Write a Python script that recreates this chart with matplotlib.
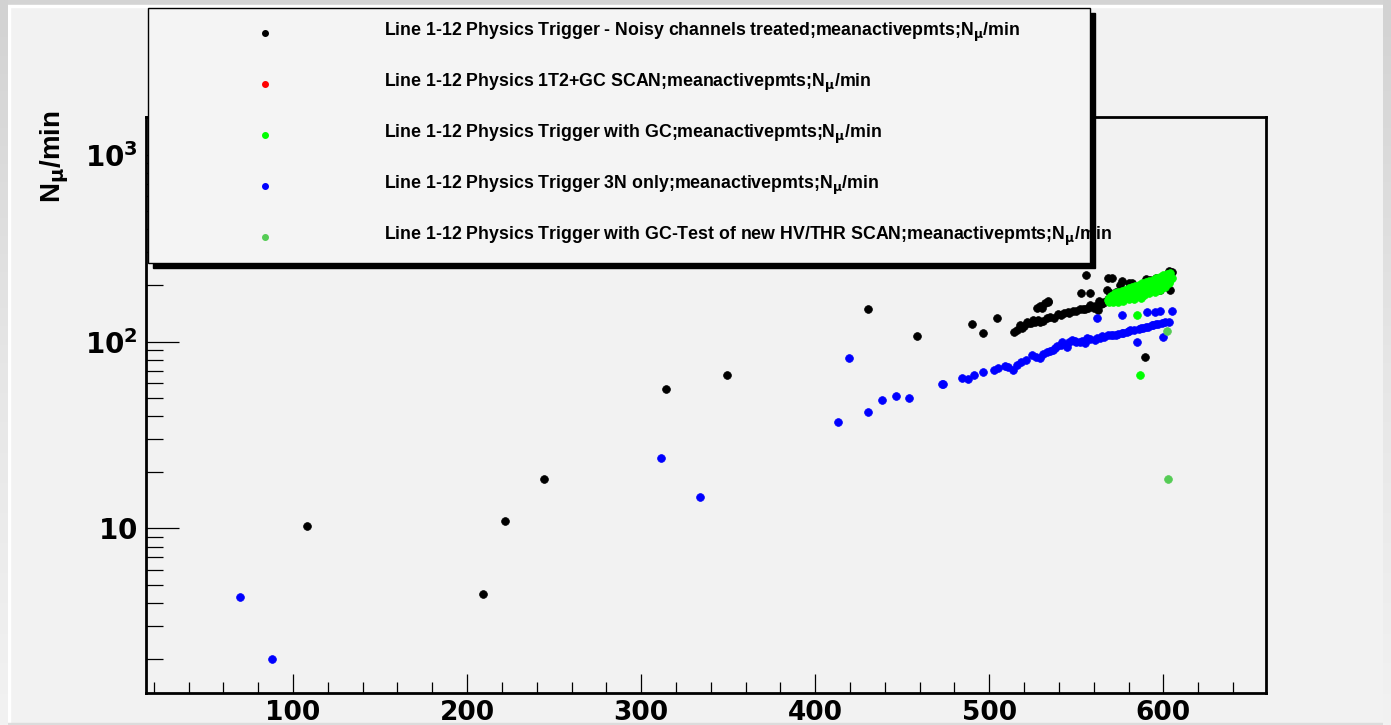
import matplotlib
matplotlib.use("Agg")
import matplotlib.pyplot as plt
from matplotlib.patches import Rectangle
from matplotlib.lines import Line2D
from matplotlib.ticker import FixedLocator, FixedFormatter, LogLocator, NullFormatter, MultipleLocator
from matplotlib.colors import LinearSegmentedColormap
import numpy as np

# ---------------- data ----------------
noisy_x = [108, 209.2, 221.8, 244.3, 314.4, 349.4, 430.5, 458.6, 490.2, 496.6, 504.6,
           514, 516.1, 517.8, 519, 520, 521.8, 523, 524, 525.3, 526, 528, 529, 531.0, 533,
           535.1, 537, 539.7, 541, 543, 545.4, 546, 548, 550, 552.3, 554, 555, 557, 558.0,
           560, 561, 562.6, 563, 564, 565.5, 566, 567.8, 568, 570, 573,
           527.6, 529, 530.5, 532, 533.9, 534, 552.9, 558.0, 555.7, 568.4, 570.7, 569.5,
           572, 575.3, 576, 578, 580, 582.2, 585, 589.7, 590, 592.5, 595, 596, 598.3, 600,
           603, 604.0, 605.2]
noisy_y = [10.3, 4.45, 10.96, 18.4, 55.7, 66.4, 149.6, 107.1, 124.2, 111.2, 133.8,
           112, 115.4, 122.7, 118, 121, 127.3, 125, 126, 130.5, 128, 131, 127, 128.9, 133,
           135.4, 134, 140.5, 139, 142, 144.1, 142, 146, 146, 149.5, 149, 150, 152, 157.1,
           152, 155, 147.6, 165, 158, 160.9, 163, 188.9, 170, 176, 184,
           151.3, 155, 151.3, 160, 162.9, 165, 182.1, 182.1, 227.3, 219.0, 219.0, 182.1,
           175, 201.0, 211, 180, 207, 205.9, 185, 82.6, 215, 213.7, 195, 220, 188.9, 205,
           240, 188.9, 235.8]

scan_x = []
scan_y = []

gc_x = [568, 569, 569, 570, 570, 571, 571, 572, 572, 573, 573, 574, 574, 575, 575, 576,
        576, 577, 577, 578, 578, 579, 579, 580, 580, 581, 581, 582, 582, 583, 583, 584,
        584, 585, 585, 586, 586, 587, 587, 588, 588, 589, 589, 590, 590, 591, 591, 592,
        592, 593, 593, 594, 594, 595, 595, 596, 596, 597, 597, 598, 598, 599, 599, 600,
        600, 601, 601, 602, 602, 603, 603, 604, 604, 605, 577, 583, 589, 595, 601, 598,
        592, 586, 580, 574, 585.1, 586.8]
gc_y = [166, 162, 172, 168, 176, 163, 178, 170, 181, 167, 176, 172, 184, 169, 180, 174,
        187, 171, 182, 176, 190, 173, 185, 178, 193, 175, 188, 180, 196, 177, 191, 183,
        199, 180, 194, 186, 202, 171, 197, 189, 205, 180, 200, 192, 208, 185, 203, 195,
        211, 188, 206, 198, 214, 191, 209, 201, 218, 195, 212, 204, 222, 199, 216, 207,
        226, 202, 220, 210, 230, 206, 224, 213, 233, 220, 165, 168, 178, 185, 196, 190,
        182, 176, 170, 163, 138.8, 66.3]

n3_x = [69.5, 88, 311.5, 334, 413, 419.5, 430.5, 438.5, 446.6, 454, 473, 473.6, 484.5,
        487.9, 491.4, 496.6, 502.9, 505, 509.2, 511, 513.8, 516, 518.4, 521, 524.7, 527,
        529.3, 531, 533.3, 535, 536.8, 538, 539, 541, 542.0, 544.8, 546, 547.7, 549, 550,
        552.3, 553, 555, 556.3, 558, 560.9, 562, 563.8, 565, 566, 568.4, 570, 571.3, 573,
        574, 576, 577.0, 579, 580, 581.0, 583, 585.1, 586, 587, 588.5, 590, 591, 593.7,
        594, 596, 597, 599.4, 601.1, 603, 600.0, 562.1, 576.4, 590.8, 595.4, 598.3, 605]
n3_y = [4.30, 2.0, 23.8, 14.7, 37.2, 81.7, 42, 48.7, 51, 50, 59.5, 59.3, 63.9,
        63.1, 66.3, 68.8, 70.5, 72, 74.0, 73, 70.5, 75, 77.8, 80, 84.8, 83,
        81.7, 86, 88.0, 89, 90.2, 92, 95, 96, 99.5, 93.6, 99, 102.0, 101, 100,
        99.5, 101, 98, 104.5, 103, 102.0, 104, 104.5, 107, 106, 108.5, 108, 108.5, 109,
        110, 111, 111.2, 113, 114, 115.4, 115, 99.5, 117, 118, 118.3, 120, 120, 122.7,
        122, 124, 124, 125.8, 127.3, 128, 105.8, 133.8, 138.8, 144.1, 144.1, 145.8, 146]

hv_x = [602.3, 602.9]
hv_y = [114, 18.4]

labels = [
    r"Line 1-12 Physics Trigger - Noisy channels treated;meanactivepmts;N$_{\mathbf{\mu}}$/min",
    r"Line 1-12 Physics 1T2+GC SCAN;meanactivepmts;N$_{\mathbf{\mu}}$/min",
    r"Line 1-12 Physics Trigger with GC;meanactivepmts;N$_{\mathbf{\mu}}$/min",
    r"Line 1-12 Physics Trigger 3N only;meanactivepmts;N$_{\mathbf{\mu}}$/min",
    r"Line 1-12 Physics Trigger with GC-Test of new HV/THR SCAN;meanactivepmts;N$_{\mathbf{\mu}}$/min",
]
colors = ["#000000", "#ff0000", "#00ff00", "#0000ff", "#55cc55"]
series = [(noisy_x, noisy_y), (scan_x, scan_y), (gc_x, gc_y), (n3_x, n3_y), (hv_x, hv_y)]

x_major = [100, 200, 300, 400, 500, 600]
y_major = [10, 100, 1000]
y_major_labels = [r"$\mathbf{10}$", r"$\mathbf{10^{2}}$", r"$\mathbf{10^{3}}$"]

# ---------------- figure ----------------
W, H = 1391, 725
BG = "#f2f2f2"
fig = plt.figure(figsize=(W / 100, H / 100), dpi=100, facecolor=BG)

def fx(px):
    return px / W

def fy(py):
    return 1 - py / H

# screenshot border
grad = np.linspace(0, 1, 256).reshape(-1, 1)
cm = LinearSegmentedColormap.from_list("g", ["#d2d2d2", "#e6e6e6", "#f2f2f2"])
axl = fig.add_axes([0, 0, fx(7), 1]); axl.imshow(grad, aspect="auto", cmap=cm); axl.axis("off")
axr = fig.add_axes([fx(1383), 0, fx(8), 1]); axr.imshow(grad, aspect="auto", cmap=cm); axr.axis("off")
fig.add_artist(Rectangle((0, fy(5)), 1, 5 / H, transform=fig.transFigure, color="#d4d4d4", zorder=0))
fig.add_artist(Rectangle((fx(7), fy(7)), fx(1376), 2 / H, transform=fig.transFigure, color="white", zorder=0))
fig.add_artist(Rectangle((fx(7), 0), fx(3), fy(7), transform=fig.transFigure, color="white", zorder=0))
fig.add_artist(Rectangle((0, 0), 1, 2 / H, transform=fig.transFigure, color="#dcdcdc", zorder=0))

ax = fig.add_axes([fx(146), fy(693), fx(1266) - fx(146), fy(117) - fy(693)])
ax.set_facecolor(BG)

for (xs, ys), c in zip(series, colors):
    if len(xs):
        ax.plot(xs, ys, linestyle="none", marker="o", ms=5.6, color=c, mec=c, mew=0.5)

ax.set_yscale("log")
ax.set_xlim(15.5, 659)
ax.set_ylim(1.315, 1593)

ax.xaxis.set_major_locator(FixedLocator(x_major))
ax.xaxis.set_minor_locator(MultipleLocator(20))
ax.yaxis.set_major_locator(FixedLocator(y_major))
ax.yaxis.set_major_formatter(FixedFormatter(y_major_labels))
ax.yaxis.set_minor_locator(LogLocator(base=10, subs=np.arange(2, 10)))
ax.yaxis.set_minor_formatter(NullFormatter())

ax.tick_params(axis="x", which="major", direction="in", length=14, width=0.9, labelsize=19, pad=5)
ax.tick_params(axis="x", which="minor", direction="in", length=8, width=0.9)
ax.tick_params(axis="y", which="major", direction="in", length=24, width=0.9, labelsize=20, pad=6)
ax.tick_params(axis="y", which="minor", direction="in", length=12, width=0.9)
for lab in ax.get_xticklabels():
    lab.set_fontweight("bold")
    lab.set_family("DejaVu Sans")
for sp in ax.spines.values():
    sp.set_linewidth(2)

# y title
fig.text(fx(55), fy(157), r"N$_{\mathbf{\mu}}$/min", rotation=90, ha="center", va="center",
         fontsize=20, fontweight="bold", family="Liberation Sans")

# legend box with ROOT-style shadow
x0, x1, y0, y1 = 148, 1090, 8, 263
fig.add_artist(Rectangle((fx(x0 + 5), fy(y1 + 5)), fx(x1) - fx(x0), fy(y0) - fy(y1),
                         transform=fig.transFigure, facecolor="black", edgecolor="black", zorder=10))
fig.add_artist(Rectangle((fx(x0), fy(y1)), fx(x1) - fx(x0), fy(y0) - fy(y1),
                         transform=fig.transFigure, facecolor="#f4f4f4", edgecolor="black",
                         linewidth=1.0, zorder=11))
marker_y = [33, 84, 135, 186, 237]
for lab, c, my in zip(labels, colors, marker_y):
    fig.add_artist(Line2D([fx(265)], [fy(my)], transform=fig.transFigure, marker="o", ms=4.0,
                          color=c, mec=c, linestyle="none", zorder=12))
    fig.text(fx(384), fy(my + 3), lab, ha="left", va="baseline", fontsize=12.8,
             fontweight="bold", family="Liberation Sans", zorder=12)

fig.savefig("out.png", dpi=100, facecolor=BG)
